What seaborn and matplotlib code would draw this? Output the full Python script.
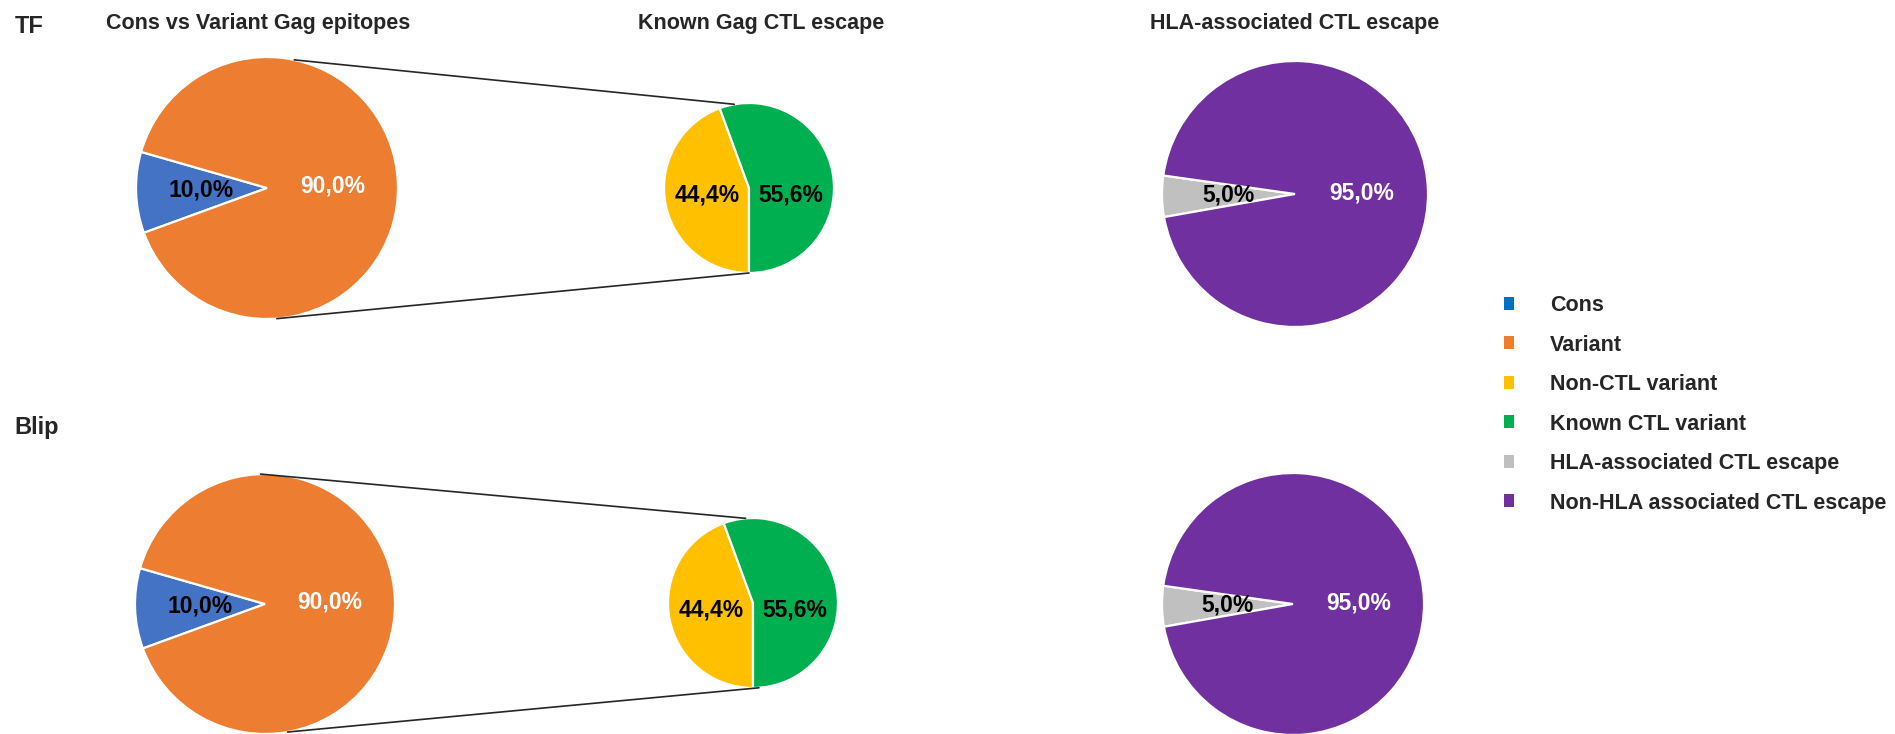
import matplotlib
matplotlib.use("Agg")
import matplotlib.pyplot as plt
from matplotlib.patches import ConnectionPatch, Patch
import numpy as np
import seaborn as sns

# ---- data (percent of epitopes) ----
groups = ["TF", "Blip"]
chart_titles = ["Cons vs Variant Gag epitopes", "Known Gag CTL escape", "HLA-associated CTL escape"]

gag_labels = ["Cons", "Variant"]
gag_tf = [10.0, 90.0]
gag_blip = [10.0, 90.0]

ctl_labels = ["Non-CTL variant", "Known CTL variant"]
ctl_tf = [44.4, 55.6]
ctl_blip = [44.4, 55.6]

hla_labels = ["HLA-associated CTL escape", "Non-HLA associated CTL escape"]
hla_tf = [5.0, 95.0]
hla_blip = [5.0, 95.0]

legend_labels = gag_labels + ctl_labels + hla_labels

# ---- style ----
sns.set_theme(style="white")
plt.rcParams["font.family"] = ["Liberation Sans", "DejaVu Sans"]
plt.rcParams["font.weight"] = "bold"

pie_colors = {
    "Cons": "#4472C4", "Variant": "#ED7D31",
    "Non-CTL variant": "#FFC000", "Known CTL variant": "#00B050",
    "HLA-associated CTL escape": "#C0C0C0", "Non-HLA associated CTL escape": "#7030A0",
}
legend_colors = sns.color_palette(["#0070C0", "#ED7D31", "#FFC000", "#00B050", "#BFBFBF", "#7030A0"])

W, H = 1895, 734
fig = plt.figure(figsize=(W / 100, H / 100), dpi=100)


def box(cx, cy, r):
    """Axes rectangle (figure fraction) for a pie of radius r px centred at (cx, cy) px from top-left."""
    return [(cx - r) / W, 1 - (cy + r) / H, 2 * r / W, 2 * r / H]


def pct(v):
    return f"{v:.1f}%".replace(".", ",")


def pct_fmt(values):
    it = iter(values)
    return lambda p: pct(next(it))


def draw_pie(rect, values, labels, startangle, label_colors, level_labels=False):
    ax = fig.add_axes(rect)
    wedges, texts, autotexts = ax.pie(
        values,
        colors=[pie_colors[l] for l in labels],
        startangle=startangle,
        counterclock=False,
        radius=1.0,
        autopct=pct_fmt(values),
        pctdistance=0.5,
        wedgeprops=dict(edgecolor="white", linewidth=1.6, clip_on=False),
        textprops=dict(fontsize=16.5, fontweight="bold"),
    )
    for t, c in zip(autotexts, label_colors):
        t.set_color(c)
    if level_labels:
        # put both value labels on one line, side by side
        y = min(t.get_position()[1] for t in autotexts)
        for t in autotexts:
            t.set_y(y)
    ax.set_xlim(-1, 1)
    ax.set_ylim(-1, 1)
    ax.set_aspect("equal")
    ax.axis("off")
    return ax


layout = {
    "TF": dict(gag=(267, 188, 131), ctl=(749, 188, 85), hla=(1295, 194, 133),
               conn_top=(78, 100), conn_bot=(-85.7, -90)),
    "Blip": dict(gag=(265, 604, 130), ctl=(753, 603, 85), hla=(1293, 604, 131),
                 conn_top=(92, 95), conn_bot=(-80, -86)),
}
data = {
    "TF": (gag_tf, ctl_tf, hla_tf),
    "Blip": (gag_blip, ctl_blip, hla_blip),
}

for g in groups:
    lay = layout[g]
    gv, cv, hv = data[g]
    ax1 = draw_pie(box(*lay["gag"]), gv, gag_labels, 200, ["black", "white"])
    ax2 = draw_pie(box(*lay["ctl"]), cv, ctl_labels, 270, ["black", "black"], level_labels=True)
    draw_pie(box(*lay["hla"]), hv, hla_labels, 190, ["black", "white"])

    # pie-of-pie connector lines
    for a1, a2 in (lay["conn_top"], lay["conn_bot"]):
        p1 = (np.cos(np.radians(a1)), np.sin(np.radians(a1)))
        p2 = (np.cos(np.radians(a2)), np.sin(np.radians(a2)))
        con = ConnectionPatch(xyA=p1, coordsA=ax1.transData, xyB=p2, coordsB=ax2.transData,
                              color="#262626", linewidth=1.2)
        fig.add_artist(con)

# row labels
fig.text(15 / W, 1 - 33 / H, "TF", fontsize=17, fontweight="bold", ha="left", va="baseline")
fig.text(14 / W, 1 - 434 / H, "Blip", fontsize=17, fontweight="bold", ha="left", va="baseline")

# chart titles
for title, cx in zip(chart_titles, [258, 761, 1295]):
    fig.text(cx / W, 1 - 29 / H, title, fontsize=15.5, fontweight="bold", ha="center", va="baseline")

# legend
handles = [Patch(facecolor=c, edgecolor="none") for c in legend_colors]
fig.legend(handles, legend_labels, loc="upper left", bbox_to_anchor=(1504 / W, 1 - 295 / H),
           frameon=False, prop=dict(weight="bold", size=15.5),
           handlelength=0.47, handleheight=0.55, handletextpad=1.65,
           labelspacing=0.86, borderpad=0, borderaxespad=0)

fig.savefig("out.png", dpi=100, facecolor="white")
